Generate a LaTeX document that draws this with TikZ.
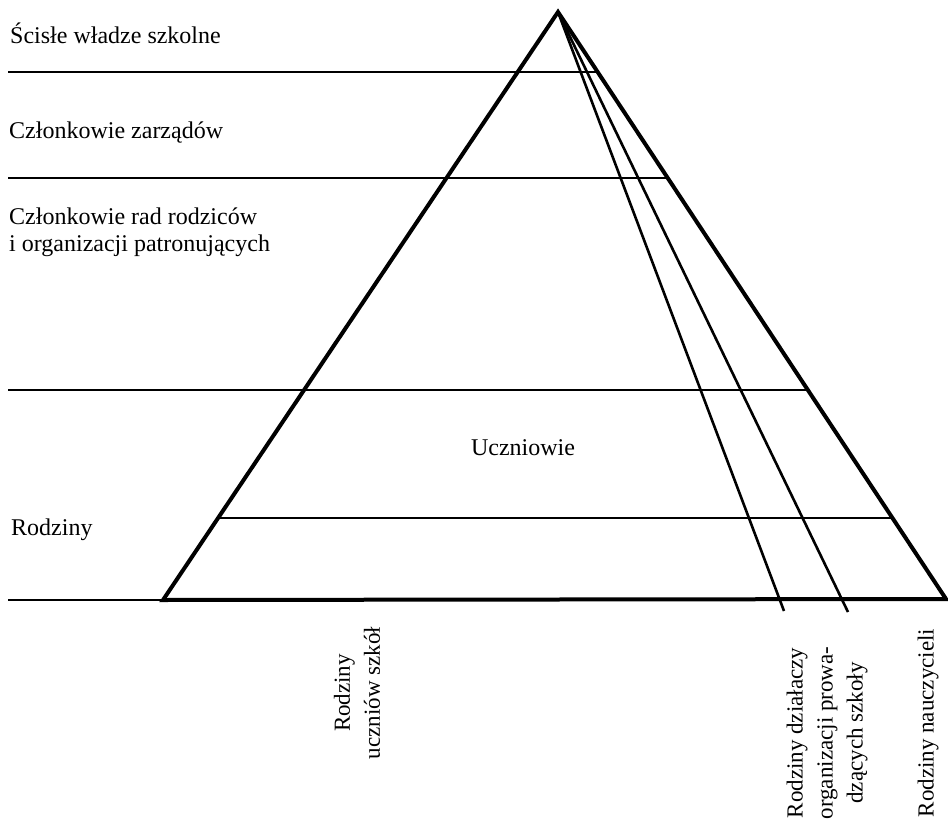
\documentclass[tikz,border=0pt]{standalone}
\usepackage{fontspec}
\setmainfont{Liberation Serif}
\begin{document}
\begin{tikzpicture}[x=1pt,y=-1pt,
  side/.style={line width=4pt,line join=miter,line cap=round},
  level/.style={line width=1.6pt},
  ray/.style={line width=2.6pt},
  lbl/.style={inner sep=0pt,font=\fontsize{24}{28}\selectfont},
  vlbl/.style={inner sep=0pt,rotate=90,align=center,font=\fontsize{23}{30}\selectfont}]
\useasboundingbox (0,0) rectangle (948,819);

% pyramid corners
\coordinate (apex) at (558,12);
\coordinate (bl) at (163,600);
\coordinate (br) at (946,599);

% left ends of the level lines
\coordinate (l1) at (8,72);
\coordinate (l2) at (8,178);
\coordinate (l3) at (8,390);
\coordinate (l5) at (8,600);
\coordinate (f1) at (0,518);
\coordinate (f2) at (948,518);

% where the levels meet the sides
\coordinate (r1) at (intersection of apex--br and l1--{948,72});
\coordinate (r2) at (intersection of apex--br and l2--{948,178});
\coordinate (r3) at (intersection of apex--br and l3--{948,390});
\coordinate (a4) at (intersection of apex--bl and f1--f2);
\coordinate (r4) at (intersection of apex--br and f1--f2);

% free ends of the two inner rays
\coordinate (e1) at (784,611);
\coordinate (e2) at (848,612);

% levels
\draw[level] (l1) -- (r1);
\draw[level] (l2) -- (r2);
\draw[level] (l3) -- (r3);
\draw[level] (a4) -- (r4);
\draw[level] (l5) -- (bl);

% inner rays
\draw[ray] (apex) -- (e1);
\draw[ray] (apex) -- (e2);

% pyramid outline
\draw[side] (bl) -- (apex) -- (br) -- cycle;

% level names
\node[lbl,anchor=base west] (t1) at (10,43) {Ścisłe władze szkolne};
\node[lbl,anchor=base west] (t2) at (9,138) {Członkowie zarządów};
\node[lbl,anchor=base west] (t3) at (9,224) {Członkowie rad rodziców};
\node[lbl,anchor=base west] (t4) at (9,251) {i organizacji patronujących};
\node[lbl,anchor=base west] (t5) at (11,535) {Rodziny};
\node[lbl,anchor=base] (t6) at (523,455) {Uczniowie};

% family groups under the base
\node[vlbl] (g1) at (357,693) {Rodziny\\uczniów szkół};
\node[vlbl] (g2) at (827,733) {Rodziny działaczy\\organizacji prowa-\\dzących szkoły};
\node[vlbl] (g3) at (928,723) {Rodziny nauczycieli};
\end{tikzpicture}
\end{document}
